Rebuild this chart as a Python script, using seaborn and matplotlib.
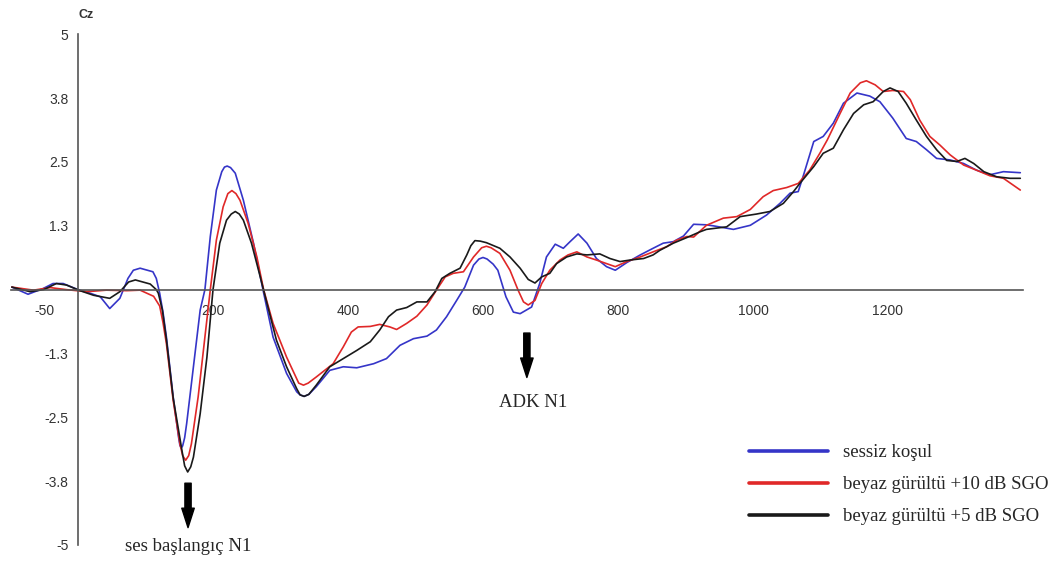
import numpy as np
import pandas as pd
import seaborn as sns
import matplotlib.pyplot as plt
from matplotlib.lines import Line2D

# Grand-average ERP waveforms at Cz (time in ms, amplitude in µV)
t_sessiz = [-98, -74, -52, -37, -22, 0, 18, 33, 47, 62, 74, 82, 92, 111, 116, 121, 126,
            131, 141, 149, 151, 153, 155, 158, 161, 171, 181, 188, 196, 205, 213, 217,
            221, 226, 233, 245, 260, 274, 289, 309, 324, 329, 335, 342, 353, 373, 393,
            413, 438, 457, 477, 497, 517, 531, 546, 561, 573, 586, 594, 600, 606, 615,
            622, 634, 645, 655, 672, 684, 694, 707, 719, 729, 741, 754, 768, 783, 796,
            813, 833, 852, 867, 882, 897, 912, 930, 941, 971, 996, 1020, 1040, 1055,
            1067, 1075, 1090, 1104, 1119, 1134, 1154, 1173, 1188, 1207, 1227, 1242,
            1257, 1272, 1292, 1312, 1331, 1351, 1371, 1396]
v_sessiz = [0.05, -0.09, 0.02, 0.12, 0.12, 0.0, -0.07, -0.14, -0.37, -0.17, 0.22, 0.38,
            0.42, 0.35, 0.22, -0.07, -0.45, -0.93, -2.10, -2.89, -3.05, -3.10, -3.06,
            -2.90, -2.62, -1.51, -0.40, 0.0, 1.04, 1.95, 2.31, 2.40, 2.42, 2.39, 2.28,
            1.75, 0.91, 0.0, -0.93, -1.64, -2.00, -2.06, -2.09, -2.05, -1.90, -1.58,
            -1.51, -1.53, -1.45, -1.35, -1.09, -0.96, -0.91, -0.79, -0.53, -0.21, 0.05,
            0.48, 0.60, 0.63, 0.60, 0.50, 0.38, -0.14, -0.44, -0.47, -0.34, 0.12, 0.64,
            0.89, 0.81, 0.94, 1.09, 0.91, 0.61, 0.45, 0.38, 0.53, 0.68, 0.81, 0.91,
            0.94, 1.05, 1.28, 1.27, 1.25, 1.18, 1.26, 1.46, 1.69, 1.89, 1.92, 2.25,
            2.90, 3.00, 3.26, 3.65, 3.85, 3.79, 3.68, 3.36, 2.96, 2.90, 2.74, 2.57,
            2.54, 2.47, 2.34, 2.25, 2.31, 2.29]

t_beyaz10 = [-98, -66, -41, -17, 13, 42, 72, 92, 112, 121, 126, 131, 141, 151, 155,
             159.5, 164, 168, 178, 188, 196, 205, 215, 222, 228, 234, 240, 252, 265, 275,
             289, 309, 327, 334, 341, 353, 378, 393, 405, 415, 433, 447, 462, 472, 487,
             502, 517, 531, 544, 556, 571, 586, 598, 605, 612, 625, 640, 652, 660, 667,
             677, 687, 699, 714, 726, 739, 754, 768, 783, 796, 813, 833, 852, 872, 887,
             902, 912, 931, 956, 976, 996, 1015, 1030, 1050, 1067, 1084, 1099, 1110,
             1129, 1144, 1159, 1168, 1181, 1193, 1207, 1223, 1233, 1247, 1262, 1277,
             1292, 1312, 1331, 1351, 1371, 1396]
v_beyaz10 = [0.05, -0.01, 0.04, 0.0, -0.04, -0.01, -0.02, -0.01, -0.13, -0.32, -0.65,
             -1.06, -2.17, -3.02, -3.25, -3.34, -3.25, -3.02, -2.10, -0.93, 0.0, 0.97,
             1.62, 1.88, 1.94, 1.88, 1.75, 1.30, 0.64, 0.0, -0.66, -1.32, -1.83, -1.87,
             -1.83, -1.71, -1.45, -1.12, -0.83, -0.73, -0.72, -0.68, -0.73, -0.78,
             -0.66, -0.52, -0.30, -0.01, 0.25, 0.32, 0.35, 0.64, 0.82, 0.85, 0.82, 0.71,
             0.38, -0.01, -0.24, -0.30, -0.21, 0.12, 0.38, 0.58, 0.68, 0.74, 0.64, 0.58,
             0.51, 0.45, 0.55, 0.64, 0.74, 0.84, 0.97, 1.04, 1.03, 1.26, 1.40, 1.43,
             1.57, 1.82, 1.94, 2.00, 2.08, 2.34, 2.67, 2.93, 3.45, 3.85, 4.05, 4.09,
             4.01, 3.88, 3.90, 3.88, 3.72, 3.32, 3.00, 2.83, 2.64, 2.44, 2.34, 2.23,
             2.18, 1.95]

t_beyaz5 = [-98, -71, -51, -32, -17, 3, 23, 47, 62, 75, 85, 107, 116, 119, 125, 131,
            141, 154, 158, 162.5, 167, 171, 181, 191, 200, 210, 220, 227, 233, 239, 245,
            257, 270, 280, 294, 309, 324, 329, 335, 342, 353, 373, 393, 413, 433, 447,
            460, 472, 487, 502, 517, 529, 539, 551, 566, 576, 582, 588, 596, 605, 625,
            640, 655, 667, 677, 687, 699, 709, 724, 739, 754, 773, 788, 803, 818, 838,
            852, 862, 882, 902, 921, 931, 961, 981, 1005, 1025, 1045, 1060, 1070, 1090,
            1104, 1119, 1134, 1149, 1164, 1178, 1193, 1203, 1215, 1227, 1242, 1257,
            1272, 1287, 1302, 1314, 1327, 1342, 1361, 1381, 1396]
v_beyaz5 = [0.05, -0.04, 0.0, 0.12, 0.09, -0.02, -0.11, -0.17, -0.04, 0.15, 0.19, 0.11,
            0.0, -0.07, -0.40, -0.98, -2.12, -3.15, -3.45, -3.57, -3.47, -3.28, -2.43,
            -1.32, 0.0, 0.91, 1.36, 1.48, 1.53, 1.48, 1.36, 0.91, 0.25, -0.27, -0.99,
            -1.51, -1.94, -2.06, -2.09, -2.05, -1.87, -1.51, -1.35, -1.19, -1.02, -0.79,
            -0.53, -0.40, -0.35, -0.24, -0.24, -0.04, 0.22, 0.32, 0.42, 0.68, 0.86,
            0.96, 0.95, 0.92, 0.81, 0.64, 0.42, 0.20, 0.13, 0.25, 0.32, 0.51, 0.64,
            0.70, 0.68, 0.70, 0.61, 0.55, 0.58, 0.61, 0.68, 0.77, 0.91, 1.02, 1.13,
            1.18, 1.23, 1.43, 1.48, 1.53, 1.69, 1.92, 2.09, 2.41, 2.67, 2.77, 3.13,
            3.45, 3.62, 3.68, 3.88, 3.95, 3.88, 3.65, 3.32, 3.00, 2.74, 2.53, 2.51,
            2.57, 2.47, 2.31, 2.21, 2.18, 2.18]

conditions = ["sessiz koşul", "beyaz gürültü +10 dB SGO", "beyaz gürültü +5 dB SGO"]
colors = ["#3535c8", "#e02828", "#1a1a1a"]

x_ticks = [-50, 200, 400, 600, 800, 1000, 1200]
y_ticks = [-5, -3.75, -2.5, -1.25, 1.25, 2.5, 3.75, 5]
y_tick_labels = ["-5", "-3.8", "-2.5", "-1.3", "1.3", "2.5", "3.8", "5"]

sns.set_style("white")
plt.rcParams["font.family"] = ["Liberation Sans", "DejaVu Sans"]

df = pd.concat(
    [pd.DataFrame({"ms": t, "uV": v, "kosul": name})
     for name, t, v in zip(conditions,
                           [t_sessiz, t_beyaz10, t_beyaz5],
                           [v_sessiz, v_beyaz10, v_beyaz5])],
    ignore_index=True)

W, H = 1056, 561
fig = plt.figure(figsize=(W / 100, H / 100), dpi=100)
ax = fig.add_axes([10.5 / W, 16 / H, (1023 - 10.5) / W, (545 - 34.3) / H])

sns.lineplot(data=df, x="ms", y="uV", hue="kosul", hue_order=conditions,
             palette=colors, sort=False, estimator=None, linewidth=1.2,
             legend=False, ax=ax)
for ln in ax.lines:
    ln.set_solid_joinstyle("round")

ax.set_xlim(-100, 1400)
ax.set_ylim(-5, 5)
ax.set_xlabel("")
ax.set_ylabel("")

axis_grey = "#555555"
for side in ("top", "right"):
    ax.spines[side].set_visible(False)
ax.spines["left"].set_position(("data", 0))
ax.spines["bottom"].set_position(("data", 0))
for side in ("left", "bottom"):
    ax.spines[side].set_color(axis_grey)
    ax.spines[side].set_linewidth(1.2)

ax.set_xticks(x_ticks)
ax.set_xticklabels([str(v) for v in x_ticks])
ax.set_yticks(y_ticks)
ax.set_yticklabels(y_tick_labels)
ax.tick_params(axis="x", direction="out", length=7, width=1.1, color=axis_grey,
               labelsize=10, labelcolor="#333333", pad=3)
ax.tick_params(axis="y", direction="out", length=4, width=1.1, color=axis_grey,
               labelsize=10, labelcolor="#333333", pad=3)

fig.text(86 / W, 1 - 15 / H, "Cz", fontweight="bold", fontsize=9,
         ha="center", va="center", color="#333333")

# Peak markers
serif = ["Liberation Serif", "DejaVu Serif"]
arrow_style = "simple,head_length=1.4,head_width=0.9,tail_width=0.45"
for x_pk, y_top, y_tip, label, x_lab, y_lab in [
        (163, -3.79, -4.66, "ses başlangıç N1", 163, -5.03),
        (665, -0.85, -1.72, "ADK N1", 674, -2.2)]:
    ax.annotate("", xy=(x_pk, y_tip), xytext=(x_pk, y_top),
                arrowprops=dict(arrowstyle=arrow_style, mutation_scale=10,
                                fc="black", ec="black", shrinkA=0, shrinkB=0),
                annotation_clip=False)
    ax.text(x_lab, y_lab, label, family=serif, fontsize=13.5,
            ha="center", va="center", clip_on=False)

handles = [Line2D([], [], color=c, lw=2.6) for c in colors]
fig.legend(handles, conditions, loc="upper left",
           bbox_to_anchor=(749 / W, 1 - 444 / H), frameon=False,
           prop={"family": serif, "size": 13.5}, handlelength=4.2,
           handletextpad=0.8, labelspacing=0.8, borderpad=0, borderaxespad=0)

fig.savefig("out.png", dpi=100)
